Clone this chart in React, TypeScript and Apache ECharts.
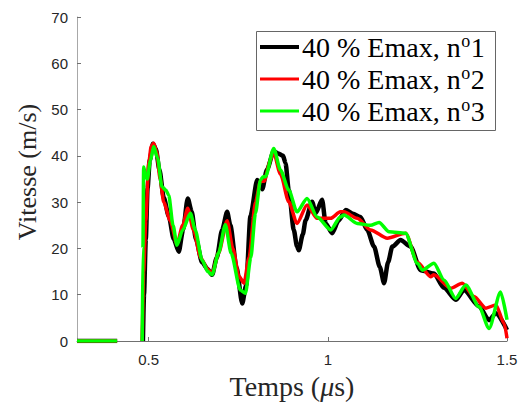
import React, { useEffect, useRef } from "react";
import * as echarts from "echarts";

const seriesNames = ["40 % Emax, nº1", "40 % Emax, nº2", "40 % Emax, nº3"];
const seriesColors = ["#000000", "#ff0000", "#00ff00"];
const xTicks = [0.5, 1, 1.5];

const run1: (number | null)[][] = [
  [0.3, 0], [0.412, 0], [0.45, null],
  [0.484, 0], [0.487, 10], [0.492, 22], [0.497, 33], [0.503, 39], [0.512, 42.6], [0.52, 41.5], [0.53, 37],
  [0.542, 31], [0.556, 27], [0.57, 22], [0.584, 19.3], [0.596, 24], [0.609, 30.8], [0.62, 28], [0.632, 22],
  [0.649, 17], [0.665, 15.5], [0.677, 14.3], [0.69, 18], [0.705, 24], [0.719, 27.9], [0.728, 25], [0.745, 16],
  [0.761, 8.1], [0.772, 12], [0.784, 27], [0.803, 34.8], [0.812, 34], [0.817, 32.8], [0.83, 37], [0.849, 41],
  [0.862, 40.5], [0.875, 40], [0.882, 38.4], [0.891, 32.6], [0.905, 24], [0.914, 20.4], [0.919, 19.6], [0.93, 23],
  [0.938, 26.1], [0.956, 30.1], [0.966, 27.6], [0.984, 30.5], [0.994, 25.4], [1.012, 23.3], [1.03, 26], [1.05, 28.3],
  [1.07, 27.5], [1.091, 26.8], [1.11, 24], [1.129, 20.4], [1.145, 16], [1.157, 12.5], [1.168, 17], [1.18, 20.4],
  [1.203, 21.8], [1.231, 20.4], [1.259, 15.3], [1.296, 14.6], [1.324, 11.5], [1.357, 8.9], [1.38, 11], [1.422, 7.5],
  [1.45, 4.5], [1.469, 6], [1.5, 2.4],
];

const run2: (number | null)[][] = [
  [0.3, 0], [0.412, 0], [0.45, null],
  [0.482, 0], [0.486, 15], [0.492, 26], [0.5, 38.4], [0.507, 42], [0.514, 42.7], [0.522, 41], [0.532, 35],
  [0.542, 30], [0.56, 26], [0.579, 21], [0.595, 25], [0.609, 28.7], [0.625, 24], [0.645, 18], [0.665, 15.5],
  [0.677, 14.6], [0.695, 19], [0.719, 26], [0.735, 20], [0.752, 14], [0.766, 12.5], [0.78, 18], [0.798, 30],
  [0.812, 34.5], [0.822, 34.5], [0.84, 39], [0.847, 41.2], [0.868, 36], [0.891, 30.1], [0.914, 25.4], [0.942, 29.4],
  [0.97, 26.5], [1.008, 26.5], [1.035, 27.9], [1.045, 27.9], [1.082, 26.5], [1.119, 24], [1.166, 22.2], [1.217, 23.3],
  [1.25, 17], [1.287, 13.9], [1.296, 14.3], [1.343, 11.4], [1.375, 12.5], [1.408, 9.6], [1.441, 7.1], [1.469, 7.8],
  [1.492, 3.8], [1.5, 0.6],
];

const run3: (number | null)[][] = [
  [0.3, 0], [0.412, 0], [0.45, null],
  [0.482, 0], [0.484, 20], [0.486, 37.6], [0.491, 36], [0.496, 35], [0.505, 39], [0.514, 42], [0.525, 39.5],
  [0.537, 33.3], [0.548, 32.6], [0.556, 31.5], [0.568, 25], [0.579, 20.7], [0.595, 24], [0.6165, 27.6], [0.63, 24],
  [0.649, 17.5], [0.665, 15], [0.677, 14.3], [0.695, 19], [0.714, 25.1], [0.73, 19], [0.756, 11], [0.77, 10.3],
  [0.785, 18], [0.798, 27.6], [0.812, 34.8], [0.82, 35.5], [0.826, 35.5], [0.849, 41.6], [0.868, 36.9], [0.891, 32.6],
  [0.914, 27.9], [0.942, 30.8], [0.97, 26.8], [1.008, 24], [1.035, 26.8], [1.045, 27.2], [1.082, 25.4], [1.119, 25],
  [1.143, 25.6], [1.171, 23.6], [1.217, 23.3], [1.25, 16.8], [1.264, 15.3], [1.296, 16.8], [1.324, 13.2], [1.357, 9.2],
  [1.385, 12.1], [1.422, 7.4], [1.45, 2.7], [1.482, 10.6], [1.5, 4.6],
];

const allRuns = [run1, run2, run3];
const lineWidths = [4.5, 3.5, 3.5];

const SERIF = "Liberation Serif";
const SANS = "Liberation Sans";

function measure(text: string, size: number): number {
  const c = document.createElement("canvas").getContext("2d");
  if (!c) return text.length * size * 0.5;
  c.font = size + "px '" + SERIF + "', serif";
  return c.measureText(text).width;
}

function legendGraphics() {
  const boxX = 256, boxY = 31, boxW = 239, boxH = 99, row0 = 47, rowStep = 32;
  const mainSize = 28, supSize = 18;
  const children: any[] = [
    { type: "rect", shape: { x: boxX + 0.5, y: boxY + 0.5, width: boxW, height: boxH }, style: { fill: "#ffffff", stroke: "#666666", lineWidth: 1 } },
  ];
  seriesNames.forEach((name, i) => {
    const y = row0 + i * rowStep;
    const k = name.indexOf("º");
    const head = name.slice(0, k);
    const tail = name.slice(k + 1);
    const x0 = 302;
    const wHead = measure(head, mainSize);
    const wSup = measure("o", supSize);
    children.push({
      type: "line",
      shape: { x1: 260, y1: y, x2: 299, y2: y },
      style: { stroke: seriesColors[i], lineWidth: i === 0 ? 4 : 3 },
    });
    children.push({
      type: "text", x: x0, y,
      style: { text: head, fontFamily: SERIF, fontSize: mainSize, fill: "#000", align: "left", verticalAlign: "middle" },
    });
    children.push({
      type: "text", x: x0 + wHead + 0.5, y: y - 6,
      style: { text: "o", fontFamily: SERIF, fontSize: supSize, fill: "#000", align: "left", verticalAlign: "middle" },
    });
    children.push({
      type: "text", x: x0 + wHead + wSup + 1, y,
      style: { text: tail, fontFamily: SERIF, fontSize: mainSize, fill: "#000", align: "left", verticalAlign: "middle" },
    });
  });
  return [{ type: "group", z: 100, children }];
}

export default function App() {
  const ref = useRef<HTMLDivElement>(null);
  useEffect(() => {
    if (!ref.current) return;
    const chart = echarts.init(ref.current, undefined, { renderer: "svg" });
    chart.setOption({
      animation: false,
      backgroundColor: "#ffffff",
      grid: { left: 77, top: 17, right: 20, bottom: 64, containLabel: false },
      graphic: legendGraphics(),
      xAxis: {
        type: "value",
        min: 0.3,
        max: 1.5,
        name: "Temps ({it|μ}s)",
        nameLocation: "middle",
        nameGap: 31,
        nameTextStyle: {
          fontFamily: SERIF,
          fontSize: 28,
          color: "#262626",
          rich: { it: { fontFamily: SERIF, fontSize: 28, fontStyle: "italic", color: "#262626" } },
        },
        axisLine: { show: true, lineStyle: { color: "#707070", width: 1 } },
        axisTick: { show: true, inside: true, length: 4, customValues: xTicks, lineStyle: { color: "#707070" } },
        axisLabel: { customValues: xTicks, fontFamily: SANS, fontSize: 15, color: "#262626", margin: 11 },
        splitLine: { show: false },
      },
      yAxis: {
        type: "value",
        min: 0,
        max: 70,
        interval: 10,
        name: "Vitesse (m/s)",
        nameLocation: "middle",
        nameGap: 36,
        nameTextStyle: { fontFamily: SERIF, fontSize: 26, color: "#262626", padding: [0, 0, 0, 14] },
        axisLine: { show: true, lineStyle: { color: "#a8a8a8", width: 1 } },
        axisTick: { show: true, inside: true, length: 4, lineStyle: { color: "#707070" } },
        axisLabel: { fontFamily: SANS, fontSize: 15, color: "#262626", margin: 9 },
        splitLine: { show: false },
      },
      series: allRuns.map((d, i) => ({
        name: seriesNames[i],
        type: "line",
        data: d,
        symbol: "none",
        connectNulls: false,
        smooth: 0.25,
        smoothMonotone: "x",
        color: seriesColors[i],
        lineStyle: { color: seriesColors[i], width: lineWidths[i] },
        z: 2 + i,
      })),
    });
    return () => chart.dispose();
  }, []);
  return <div ref={ref} style={{ width: 527, height: 405, position: "absolute", left: 0, top: 0 }} />;
}
